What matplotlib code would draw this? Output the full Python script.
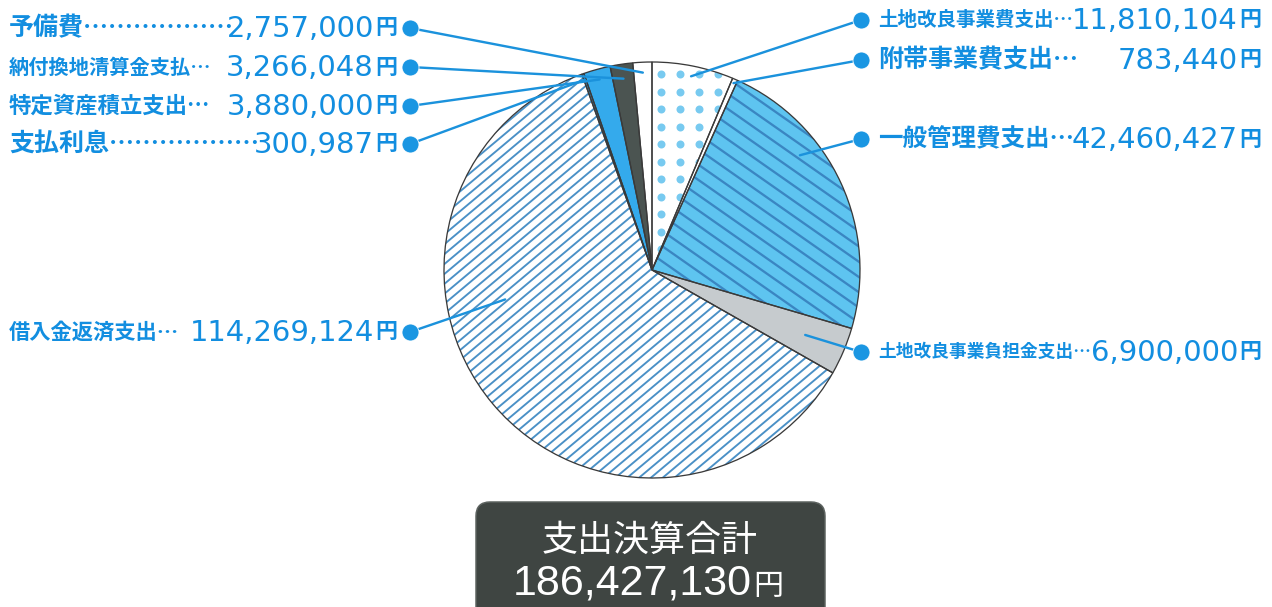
import numpy as np
import matplotlib
matplotlib.use('Agg')
import matplotlib.pyplot as plt
from matplotlib.collections import LineCollection
from matplotlib.patches import FancyBboxPatch

# data
names = ['土地改良事業費支出', '附帯事業費支出', '一般管理費支出', '土地改良事業負担金支出',
         '借入金返済支出', '支払利息', '特定資産積立支出', '納付換地清算金支払', '予備費']
values = [11810104, 783440, 42460427, 6900000, 114269124, 300987, 3880000, 3266048, 2757000]
total_title = '支出決算合計'
total_value = sum(values)

# styles
faces = ['white', 'white', '#5ec4f0', '#c6cbce', 'white', '#2a9fe6', '#34aaec', '#4b5451', 'white']
side = ['r', 'r', 'r', 'r', 'l', 'l', 'l', 'l', 'l']
row_y = [20, 60, 139, 352, 332, 144, 106, 67, 28]
name_size = [19.5, 25, 24.5, 17.7, 21.3, 25, 22.4, 20.2, 25]
n_dots = [1, 1, 1, 1, 1, 6, 1, 1, 6]
anchor = [(0.5, 0.95), (0.5, 0.98), (0.34, 0.9), (0.5, 0.8), (0.63, 0.72),
          (0.5, 0.97), (0.5, 0.95), (0.5, 0.93), (0.5, 0.95)]

blue = '#128ee0'
jp = ['Noto Sans CJK JP', 'DejaVu Sans']

W, H = 1272, 607
fig = plt.figure(figsize=(W / 72, H / 72), dpi=72)
ax = fig.add_axes([0, 0, 1, 1])
cx, cy, R = 652, H - 270, 208

wedges, _ = ax.pie(values, colors=faces, startangle=90, counterclock=False,
                   center=(cx, cy), radius=R, wedgeprops=dict(linewidth=0))


def stripes(w, ang, gap, lw, col):
    a = np.deg2rad(ang)
    t = np.array([np.cos(a), np.sin(a)])
    n = np.array([-np.sin(a), np.cos(a)])
    segs = []
    for d in np.arange(-R * 1.2, R * 1.2, gap):
        p = np.array([cx, cy]) + n * d
        segs.append([p - t * R * 1.3, p + t * R * 1.3])
    lc = LineCollection(segs, colors=col, linewidths=lw, zorder=2)
    ax.add_collection(lc)
    lc.set_clip_path(w)


stripes(wedges[2], -35, 12.5, 2.3, '#3a86c2')
stripes(wedges[4], 40, 7.6, 1.9, '#4a90c6')

# dotted texture
gx, gy = np.meshgrid(cx + 9 + 19 * np.arange(-12, 12), H - 74 - 17.5 * np.arange(0, 25))
sc = ax.scatter(gx.ravel(), gy.ravel(), s=64, color='#78caf0', linewidths=0, zorder=2)
sc.set_clip_path(wedges[0])

# outlines
ax.pie(values, startangle=90, counterclock=False, center=(cx, cy), radius=R,
       wedgeprops=dict(facecolor='none', edgecolor='#3a3a3a', linewidth=1.3, zorder=3))

# labels and leaders
for i, w in enumerate(wedges):
    t, rf = anchor[i]
    ang = np.deg2rad(w.theta2 - t * (w.theta2 - w.theta1))
    ex, ey = cx + rf * R * np.cos(ang), cy + rf * R * np.sin(ang)
    y = H - row_y[i]
    dx = 861 if side[i] == 'r' else 410
    ax.plot([dx, ex], [y, ey], color='#1b92dc', lw=2.4, zorder=4, solid_capstyle='round')
    ax.plot(dx, y, 'o', ms=17, color='#1a96e2', mec='white', mew=0.8, zorder=5)
    label = names[i] + '⋯' * n_dots[i]
    num = f'{values[i]:,}'
    if side[i] == 'r':
        nx, rx = 878, 1238
    else:
        nx, rx = 9, 374
    ax.text(nx, y, label, fontsize=name_size[i], family=jp, weight='bold', color=blue,
            ha='left', va='center')
    ax.text(rx, y - 1, num, fontsize=29, family='DejaVu Sans', color=blue,
            ha='right', va='center')
    ax.text(rx + 1, y, '円', fontsize=22, family=jp, weight='bold', color=blue,
            ha='left', va='center')

# total box
box = FancyBboxPatch((476, -30), 349, H - 502 + 30,
                     boxstyle='round,pad=0,rounding_size=14',
                     facecolor='#3f4542', edgecolor='#5c625f', lw=1.5, zorder=1)
ax.add_patch(box)
ax.text(650, H - 541, total_title, fontsize=36, family=jp, color='white',
        ha='center', va='center')
ax.text(752, H - 595, f'{total_value:,}', fontsize=43, family='Liberation Sans',
        color='white', ha='right', va='baseline')
ax.text(753, H - 595, '円', fontsize=30, family=jp, color='white',
        ha='left', va='baseline')

ax.set_xlim(0, W)
ax.set_ylim(0, H)
ax.set_aspect('equal')
ax.axis('off')

fig.savefig('out.png', dpi=72, facecolor='white')
